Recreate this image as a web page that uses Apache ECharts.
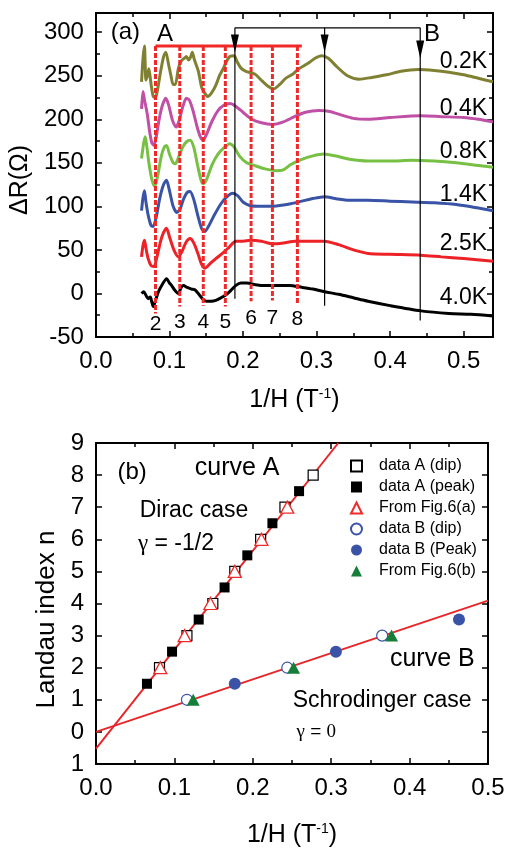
<!DOCTYPE html>
<html><head><meta charset="utf-8">
<script src="https://cdn.jsdelivr.net/npm/echarts@6/dist/echarts.min.js"></script>
<style>html,body{margin:0;padding:0;background:#fff}#c{width:509px;height:849px}</style>
</head><body><div id="c"></div>
<script>
// ---------- Panel (a) data ----------
const temps = ['0.2K','0.4K','0.8K','1.4K','2.5K','4.0K'];
const tempColors = ['#808033','#c050a6','#77c043','#3953a6','#ec2227','#000000'];
const curve02 = [[0.062,243],[0.064,270],[0.066,284],[0.067,262],[0.068,245],[0.070,250],[0.072,258],[0.075,240],[0.078,226],[0.081,225],[0.084,235],[0.088,255],[0.092,272],[0.095,277],[0.099,262],[0.102,250],[0.105,240],[0.108,240],[0.112,258],[0.116,267],[0.120,270],[0.123,272],[0.126,268],[0.129,272],[0.131,277],[0.134,268],[0.139,256],[0.144,236],[0.148,230],[0.152,226],[0.157,230],[0.163,239],[0.168,250],[0.173,258],[0.178,267],[0.182,272],[0.188,273],[0.192,266],[0.197,259],[0.204,255],[0.216,252],[0.226,244],[0.234,238],[0.242,235],[0.250,240],[0.258,247],[0.268,252],[0.276,258],[0.288,264],[0.298,270],[0.307,273],[0.316,270],[0.328,260],[0.342,250],[0.358,246],[0.375,248],[0.395,251],[0.415,255],[0.438,257],[0.460,256],[0.480,254],[0.500,251],[0.520,247],[0.540,243]];
const curve04 = [[0.062,212],[0.064,232],[0.066,222],[0.068,214],[0.070,205],[0.073,186],[0.076,173],[0.079,170],[0.082,180],[0.086,200],[0.090,215],[0.095,224],[0.099,216],[0.104,199],[0.109,191],[0.113,198],[0.118,214],[0.123,224],[0.127,222],[0.132,210],[0.138,190],[0.143,178],[0.146,176],[0.150,182],[0.158,198],[0.166,210],[0.174,216],[0.182,218],[0.190,215],[0.200,208],[0.212,200],[0.225,196],[0.240,194],[0.255,197],[0.270,203],[0.285,208],[0.303,210],[0.318,209],[0.333,205],[0.350,201],[0.370,200],[0.400,202],[0.442,204],[0.470,203],[0.500,202],[0.520,200],[0.540,197]];
const curve08 = [[0.062,155],[0.065,173],[0.067,180],[0.069,170],[0.072,150],[0.076,131],[0.080,123],[0.084,135],[0.089,158],[0.093,168],[0.096,170],[0.100,160],[0.105,150],[0.108,149],[0.113,158],[0.118,168],[0.123,174],[0.128,176],[0.133,168],[0.138,148],[0.143,130],[0.146,126],[0.150,130],[0.158,148],[0.166,160],[0.175,168],[0.182,172],[0.188,168],[0.195,158],[0.205,150],[0.215,147],[0.230,143],[0.245,141],[0.255,142],[0.265,148],[0.280,154],[0.295,158],[0.310,160],[0.325,158],[0.345,154],[0.370,152],[0.400,152],[0.430,153],[0.460,152],[0.490,150],[0.520,147],[0.540,145]];
const curve14 = [[0.062,95],[0.064,110],[0.066,118],[0.068,105],[0.071,90],[0.075,78],[0.078,77],[0.082,88],[0.087,110],[0.092,125],[0.096,130],[0.100,118],[0.105,100],[0.110,93],[0.114,96],[0.119,108],[0.124,116],[0.128,117],[0.133,108],[0.139,88],[0.144,74],[0.148,71],[0.153,77],[0.161,90],[0.170,103],[0.178,111],[0.186,115],[0.193,112],[0.200,105],[0.209,101],[0.220,100],[0.235,100],[0.250,101],[0.265,103],[0.280,106],[0.295,109],[0.311,111],[0.325,109],[0.345,107],[0.370,107],[0.400,106],[0.430,105],[0.460,104],[0.490,102],[0.520,98],[0.540,95]];
const curve25 = [[0.062,42],[0.064,55],[0.066,61],[0.068,52],[0.071,40],[0.075,32],[0.079,31],[0.083,42],[0.088,60],[0.092,70],[0.096,75],[0.100,65],[0.106,50],[0.112,42],[0.117,48],[0.122,58],[0.128,63],[0.133,58],[0.139,45],[0.144,33],[0.148,29],[0.155,34],[0.163,40],[0.172,46],[0.181,53],[0.190,60],[0.200,60],[0.210,61],[0.225,60],[0.240,57],[0.255,58],[0.271,60],[0.290,60],[0.311,60],[0.330,56],[0.350,50],[0.370,46],[0.400,45],[0.442,44],[0.470,42],[0.500,40],[0.540,37]];
const curve40 = [[0.062,0],[0.065,2],[0.068,-2],[0.071,-6],[0.074,-4],[0.076,-10],[0.078,-15],[0.081,-8],[0.085,2],[0.090,10],[0.096,17],[0.100,12],[0.103,9],[0.107,4],[0.112,0],[0.116,7],[0.119,9],[0.124,7],[0.130,5],[0.135,4],[0.141,-2],[0.146,-7],[0.150,-9],[0.157,-9],[0.163,-8],[0.170,-5],[0.176,-2],[0.183,3],[0.190,9],[0.197,12],[0.205,12],[0.217,10],[0.230,9],[0.245,9],[0.263,9],[0.280,7],[0.295,5],[0.311,2],[0.330,-1],[0.350,-5],[0.370,-9],[0.400,-14],[0.442,-20],[0.480,-23],[0.510,-24],[0.540,-26]];
const curvesA = [curve02, curve04, curve08, curve14, curve25, curve40];
const tempLabelX = 0.532;
const tempLabelY = [266, 212, 163, 114, 57, -5];

// Landau level markers in (a)
const llX = [0.081, 0.114, 0.146, 0.176, 0.211, 0.240, 0.274];
const llNum = ['2','3','4','5','6','7','8'];
const llBottom = [-23, -15, -14, -15, -9, -8, -13];
const llNumY = [-35, -33, -33, -33, -28, -28, -30];
const llTop = 284;
const llTopEnd = 0.280;
const bX = [0.189, 0.311, 0.441];
const bBottom = [-6, -14, -31];
const bTop = 305;
const bArrowY = [287, 287, 280];
const annA = [{t:'(a)', x:0.040, y:300}, {t:'A', x:0.094, y:298}, {t:'B', x:0.457, y:298}];

// ---------- Panel (b) data ----------
const dipA  = [[0.081,2],[0.116,3],[0.149,4],[0.177,5],[0.210,6],[0.241,7],[0.277,8]];
const peakA = [[0.065,1.5],[0.097,2.5],[0.131,3.5],[0.164,4.5],[0.193,5.5],[0.225,6.5],[0.259,7.5]];
const fig6a = [[0.082,2],[0.113,3],[0.146,4],[0.177,5],[0.211,6],[0.244,7]];
const dipB  = [[0.116,1],[0.244,2],[0.365,3]];
const peakB = [[0.177,1.5],[0.306,2.5],[0.463,3.5]];
const fig6b = [[0.124,1],[0.252,2],[0.377,3]];
const fitA = [[0,-0.52],[0.309,9]];
const fitB = [[0,0],[0.5,4.09]];
const annB = [
  {t:'(b)', x:0.046, y:8.09, fs:24},
  {t:'curve A', x:0.180, y:8.21, fs:25},
  {t:'Dirac case', x:0.125, y:6.88, fs:23},
  {t:'{g|γ} = -1/2', x:0.102, y:5.85, fs:23},
  {t:'curve B', x:0.429, y:2.27, fs:25},
  {t:'Schrodinger case', x:0.365, y:0.97, fs:23},
  {t:'{g|γ} = {g|0}', x:0.281, y:0.0, fs:19}
];

const F = 'Liberation Sans, Arial, Helvetica, sans-serif';
const SERIF = 'Liberation Serif, Times New Roman, serif';
const axisLine = {show:true, onZero:false, lineStyle:{color:'#000', width:2}};
const tick = {show:true, inside:true, length:6, lineStyle:{color:'#000', width:1.5}};
const minor = {show:true, splitNumber:2, length:4, lineStyle:{color:'#000', width:1.5}};
const lbl = {color:'#000', fontSize:24, fontFamily:F};
const supRich = {s:{fontSize:14, fontFamily:F, color:'#000', padding:[0,0,13,0]}};

function xAx(grid, pos, min, max, show, name, gap) {
  return {type:'value', gridIndex:grid, position:pos, min:min, max:max, interval:0.1,
    axisLine:axisLine, axisTick:tick, minorTick:minor, splitLine:{show:false}, minorSplitLine:{show:false},
    axisLabel: show ? Object.assign({margin:12, showMaxLabel: max===0.5, formatter:v=>v.toFixed(1)}, lbl) : {show:false},
    name: show ? name : '', nameLocation:'middle', nameGap: gap||50,
    nameTextStyle:{fontSize:25, fontFamily:F, color:'#000', rich:supRich}};
}
function yAx(grid, pos, min, max, interval, show, name, extra) {
  return Object.assign({type:'value', gridIndex:grid, position:pos, min:min, max:max, interval:interval,
    axisLine:axisLine, axisTick:tick, splitLine:{show:false}, minorSplitLine:{show:false},
    axisLabel: show ? Object.assign({margin:12, showMaxLabel:false}, lbl) : {show:false},
    name: show ? name : '', nameLocation:'middle'}, extra||{});
}

const series = [];
curvesA.forEach((c,i)=>{
  series.push({type:'line', name:temps[i], xAxisIndex:0, yAxisIndex:0, data:c, showSymbol:false, symbol:'none',
    smooth:0.25, lineStyle:{color:tempColors[i], width:3}, z:3});
});
llX.forEach((x,i)=>{
  series.push({type:'line', xAxisIndex:0, yAxisIndex:0, data:[[x,llTop],[x,llBottom[i]]], symbol:'none',
    lineStyle:{color:'#f02828', width:3, type:[5,2]}, z:4});
});
series.push({type:'line', xAxisIndex:0, yAxisIndex:0, data:[[llX[0],llTop],[llTopEnd,llTop]], symbol:'none',
  lineStyle:{color:'#f02828', width:3}, z:4});
bX.forEach((x,i)=>{
  series.push({type:'line', xAxisIndex:0, yAxisIndex:0, data:[[x,bTop],[x,bBottom[i]]], symbol:'none',
    lineStyle:{color:'#000', width:1.2}, z:5});
});
series.push({type:'line', xAxisIndex:0, yAxisIndex:0, data:[[bX[0],bTop],[bX[2],bTop]], symbol:'none',
  lineStyle:{color:'#000', width:1.2}, z:5});
series.push({type:'scatter', xAxisIndex:0, yAxisIndex:0, data:bX.map((x,i)=>[x,bArrowY[i]]), symbol:'triangle',
  symbolRotate:180, symbolSize:[8,18], itemStyle:{color:'#000', opacity:1}, z:6, silent:true});
function labelSeries(xi, yi, items, extraLabel) {
  return {type:'scatter', xAxisIndex:xi, yAxisIndex:yi, symbolSize:0, silent:true, z:10,
    itemStyle:{opacity:1},
    data: items.map(o=>({value:[o.x,o.y], name:o.t, label:{fontSize:o.fs||22, rich:{g:{fontFamily:SERIF, fontSize:o.fs||22, color:'#000'}}}})),
    label:Object.assign({show:true, position:'inside', formatter:'{b}', color:'#000', opacity:1, fontFamily:F, fontSize:22}, extraLabel||{})};
}
series.push(labelSeries(0,0, temps.map((t,i)=>({t:t, x:tempLabelX, y:tempLabelY[i], fs:23})), {align:'right'}));
series.push(labelSeries(0,0, llNum.map((t,i)=>({t:t, x:llX[i], y:llNumY[i], fs:21}))));
series.push(labelSeries(0,0, annA.map(o=>({t:o.t, x:o.x, y:o.y, fs:24}))));

series.push({type:'line', xAxisIndex:2, yAxisIndex:2, data:fitA, symbol:'none', lineStyle:{color:'#e8262a', width:2}, z:2});
series.push({type:'line', xAxisIndex:2, yAxisIndex:2, data:fitB, symbol:'none', lineStyle:{color:'#e8262a', width:2}, z:2});
const blue = '#3a53a6', green = '#157f3a', red = '#ee2a2a';
series.push({type:'scatter', name:'data A (dip)', xAxisIndex:2, yAxisIndex:2, data:dipA, symbol:'rect', symbolSize:10,
  itemStyle:{color:'#fff', borderColor:'#000', borderWidth:1.2, opacity:1}, z:5});
series.push({type:'scatter', name:'data A (peak)', xAxisIndex:2, yAxisIndex:2, data:peakA, symbol:'rect', symbolSize:10,
  itemStyle:{color:'#000', opacity:1}, z:5});
series.push({type:'scatter', name:'From Fig.6(a)', xAxisIndex:2, yAxisIndex:2, data:fig6a, symbol:'triangle', symbolSize:[13,12],
  itemStyle:{color:'#fff', borderColor:red, borderWidth:1.3, opacity:1}, z:6});
series.push({type:'scatter', name:'data B (dip)', xAxisIndex:2, yAxisIndex:2, data:dipB, symbol:'circle', symbolSize:11,
  itemStyle:{color:'#fff', borderColor:blue, borderWidth:1.2, opacity:1}, z:5});
series.push({type:'scatter', name:'data B (Peak)', xAxisIndex:2, yAxisIndex:2, data:peakB, symbol:'circle', symbolSize:12,
  itemStyle:{color:blue, opacity:1}, z:5});
series.push({type:'scatter', name:'From Fig.6(b)', xAxisIndex:2, yAxisIndex:2, data:fig6b, symbol:'triangle', symbolSize:[13,12],
  itemStyle:{color:green, opacity:1}, z:6});
series.push(labelSeries(2,2, annB));

const option = {
  animation:false,
  backgroundColor:'#fff',
  textStyle:{fontFamily:F},
  grid:[{left:93, top:13, width:400, height:324, containLabel:false},
        {left:96, top:443, width:392, height:329, containLabel:false}],
  xAxis:[xAx(0,'bottom',0,0.54,true,'1/H (T{s|-1})',50), xAx(0,'top',0,0.54,false,''),
         xAx(1,'bottom',0,0.5,true,'1/H (T{s|-1})',58), xAx(1,'top',0,0.5,false,'')],
  yAxis:[yAx(0,'left',-50,322,50,true,'ΔR(Ω)',{minorTick:minor, nameGap:47, nameTextStyle:{fontSize:25, fontFamily:F, color:'#000', padding:[0,10,0,0]}}),
         yAx(0,'right',-50,322,50,false,'',{minorTick:minor}),
         yAx(1,'left',-1,9,1,true,'Landau index n',{minorTick:{show:false}, nameGap:34,
            axisLabel:Object.assign({margin:12, showMaxLabel:true, formatter:v=> v===-1 ? '1' : String(v)}, lbl),
            nameTextStyle:{fontSize:26, fontFamily:F, color:'#000', padding:[0,32,0,0]}}),
         yAx(1,'right',-1,9,1,false,'',{minorTick:{show:false}})],
  legend:{show:true, orient:'vertical', left:350, top:458, padding:0, itemWidth:11, itemHeight:11, itemGap:5,
    data:['data A (dip)','data A (peak)','From Fig.6(a)','data B (dip)','data B (Peak)','From Fig.6(b)'],
    textStyle:{fontSize:16, fontFamily:F, color:'#000', lineHeight:16, padding:[0,0,0,12]}, selectedMode:false},
  series:series
};
const chart = echarts.init(document.getElementById('c'), null, {renderer:'canvas'});
chart.setOption(option);
</script></body></html>
